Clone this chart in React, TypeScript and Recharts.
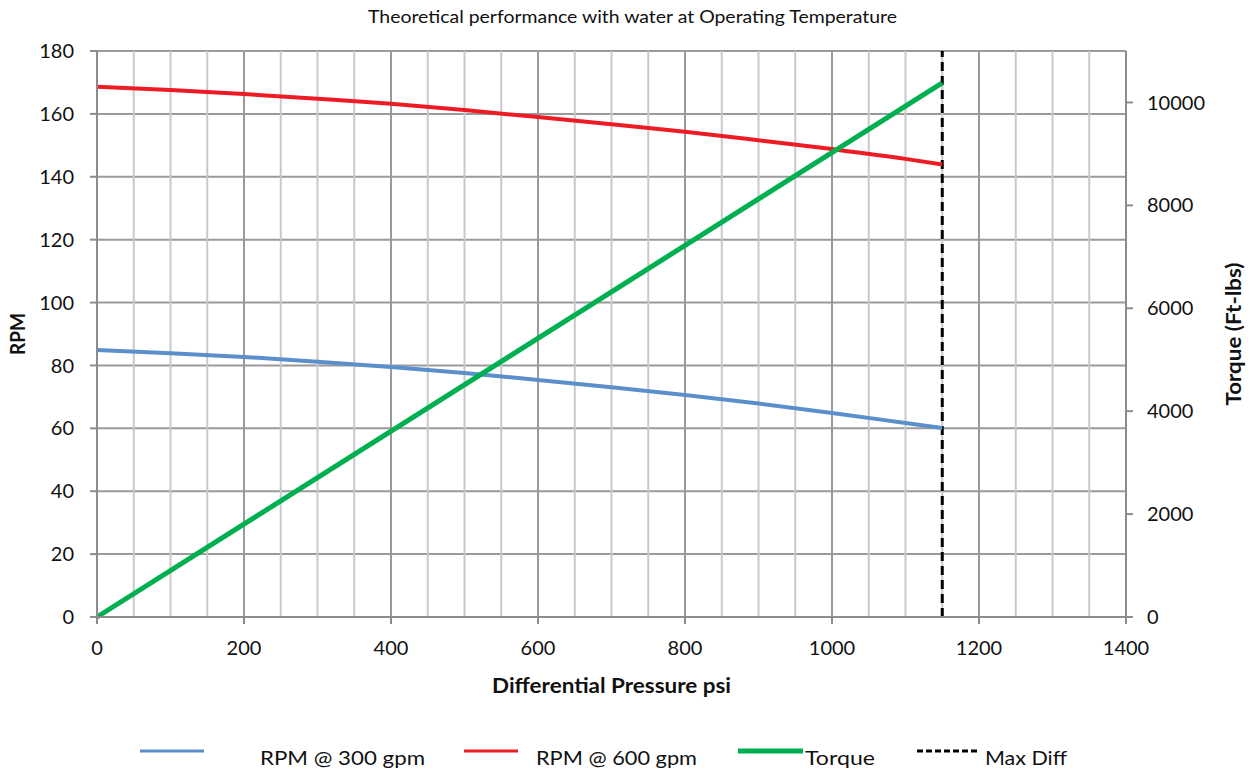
import { LineChart, Line, XAxis, YAxis, CartesianGrid, ReferenceLine } from "recharts";

// values
const pressure = [0, 100, 200, 300, 400, 500, 600, 700, 800, 900, 1000, 1100, 1150];
const rpm300 = [84.9, 83.9, 82.7, 81.2, 79.5, 77.6, 75.4, 73.1, 70.6, 67.9, 64.9, 61.7, 60.1];
const rpm600 = [168.6, 167.6, 166.3, 164.8, 163.2, 161.2, 159.0, 156.7, 154.3, 151.6, 148.8, 145.7, 143.9];
const torque = [0, null, null, null, null, null, null, null, null, null, null, null, 10380];
const maxDiff = 1150;

const xTicks = [0, 200, 400, 600, 800, 1000, 1200, 1400];
const xMinor = [50, 100, 150, 250, 300, 350, 450, 500, 550, 650, 700, 750, 850, 900, 950, 1050, 1100, 1150, 1250, 1300, 1350];
const rpmTicks = [0, 20, 40, 60, 80, 100, 120, 140, 160, 180];
const torqueTicks = [0, 2000, 4000, 6000, 8000, 10000];

const data = pressure.map((p, i) => ({
  pressure: p,
  rpm300: rpm300[i],
  rpm600: rpm600[i],
  torque: torque[i],
}));

const legendItems = [
  { name: "RPM @ 300 gpm", color: "#5b8fcb", width: 3, dash: "", lineX: 140, lineW: 64, textX: 260, textW: 165 },
  { name: "RPM @ 600 gpm", color: "#ed1c24", width: 3, dash: "", lineX: 464, lineW: 54, textX: 536, textW: 161 },
  { name: "Torque", color: "#00b050", width: 5, dash: "", lineX: 738, lineW: 65, textX: 805, textW: 70 },
  { name: "Max Diff", color: "#000000", width: 3, dash: "6 3", lineX: 917, lineW: 62, textX: 985, textW: 82 },
];

const tickFont = { fontFamily: "Lato, 'Open Sans', sans-serif", fontSize: 20, fill: "#111" };
const textFont = "Lato, 'Open Sans', sans-serif";

export default function App() {
  return (
    <div style={{ position: "absolute", left: 0, top: 0, width: 1256, height: 772, background: "#fff" }}>
      <LineChart width={1256} height={772} data={data} margin={{ top: 51, right: 0, bottom: 115, left: 0 }}>
        {xMinor.map((v) => (
          <ReferenceLine key={v} x={v} yAxisId="left" stroke="#c9c9c9" strokeWidth={2} />
        ))}
        <CartesianGrid yAxisId="left" stroke="#9a9a9a" strokeWidth={2} />
        <XAxis
          dataKey="pressure"
          type="number"
          domain={[0, 1400]}
          ticks={xTicks}
          height={40}
          tick={tickFont}
          tickSize={7}
          tickMargin={17}
          tickLine={{ stroke: "#8c8c8c", strokeWidth: 2 }}
          axisLine={{ stroke: "#8c8c8c", strokeWidth: 2 }}
        />
        <YAxis
          yAxisId="left"
          domain={[0, 180]}
          ticks={rpmTicks}
          width={97}
          tick={tickFont}
          tickSize={7}
          tickMargin={16}
          tickLine={{ stroke: "#8c8c8c", strokeWidth: 2 }}
          axisLine={{ stroke: "#8c8c8c", strokeWidth: 2 }}
        />
        <YAxis
          yAxisId="right"
          orientation="right"
          domain={[0, 11000]}
          ticks={torqueTicks}
          width={130}
          tick={tickFont}
          tickSize={7}
          tickMargin={14}
          tickLine={{ stroke: "#8c8c8c", strokeWidth: 2 }}
          axisLine={{ stroke: "#8c8c8c", strokeWidth: 2 }}
        />
        <ReferenceLine x={maxDiff} yAxisId="left" stroke="#000" strokeWidth={3} strokeDasharray="9 5" />
        <Line yAxisId="left" dataKey="rpm300" type="monotone" stroke="#5b8fcb" strokeWidth={4} dot={false} isAnimationActive={false} />
        <Line yAxisId="left" dataKey="rpm600" type="monotone" stroke="#ed1c24" strokeWidth={4} dot={false} isAnimationActive={false} />
        <Line yAxisId="right" dataKey="torque" type="linear" stroke="#00b050" strokeWidth={5} dot={false} connectNulls isAnimationActive={false} />
      </LineChart>

      <svg width={1256} height={772} style={{ position: "absolute", left: 0, top: 0, pointerEvents: "none" }}>
        <text x={368} y={23} fontFamily={textFont} fontSize={18} fill="#111" textLength={529} lengthAdjust="spacingAndGlyphs">
          Theoretical performance with water at Operating Temperature
        </text>
        <text x={492} y={693} fontFamily={textFont} fontWeight={700} fontSize={20} fill="#111" textLength={239} lengthAdjust="spacingAndGlyphs">
          Differential Pressure psi
        </text>
        <text transform="translate(25 334) rotate(-90)" textAnchor="middle" fontFamily={textFont} fontWeight={700} fontSize={20} fill="#111" textLength={42} lengthAdjust="spacingAndGlyphs">
          RPM
        </text>
        <text transform="translate(1241 334) rotate(-90)" textAnchor="middle" fontFamily={textFont} fontWeight={700} fontSize={20} fill="#111" textLength={143} lengthAdjust="spacingAndGlyphs">
          Torque (Ft-lbs)
        </text>
        {legendItems.map((it) => (
          <g key={it.name}>
            <line x1={it.lineX} x2={it.lineX + it.lineW} y1={751} y2={751} stroke={it.color} strokeWidth={it.width} strokeDasharray={it.dash || undefined} />
            <text x={it.textX} y={765} fontFamily={textFont} fontSize={20} fill="#111" textLength={it.textW} lengthAdjust="spacingAndGlyphs">
              {it.name}
            </text>
          </g>
        ))}
      </svg>
    </div>
  );
}
